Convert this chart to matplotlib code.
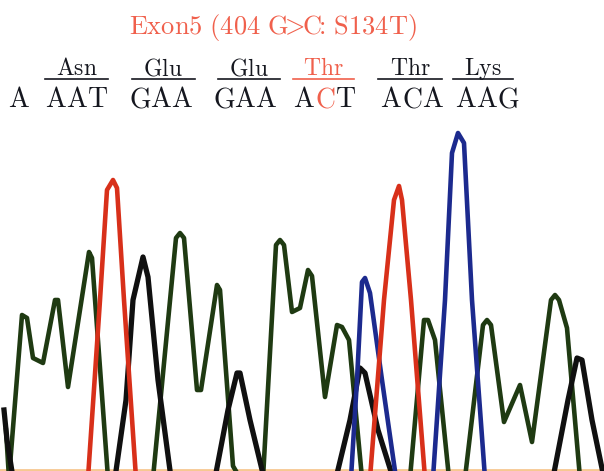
import matplotlib.pyplot as plt

# Sequencing trace, x in pixels along the read, y = screen row of the trace (469 = baseline)
base = 469
low = 478  # below the visible edge, flat parts are hidden

green_x = [6, 9, 22, 27, 33, 43, 55, 58, 68, 89, 92, 108, 153, 176, 180, 184, 197, 201, 217, 220, 233, 240,
           263, 276, 280, 284, 292, 300, 308, 312, 325, 337, 342, 349, 362, 410, 424, 428, 435, 449, 465,
           483, 487, 491, 504, 520, 532, 551, 555, 559, 567, 580]
green_y = [430, low, 315, 318, 358, 363, 300, 300, 387, 252, 258, low, low, 238, 233, 238, 390, 390, 285, 290,
           466, low, low, 245, 240, 245, 312, 308, 270, 276, 397, 325, 327, 340, low, low, 320, 320, 340, low, low,
           325, 320, 325, 422, 385, 442, 300, 295, 300, 328, low]

red_x = [88, 100, 107, 113, 117, 124, 136, 370, 384, 394, 399, 402, 411, 425]
red_y = [low, 300, 190, 180, 188, 300, low, low, 300, 200, 186, 200, 300, low]

blue_x = [351, 357, 362, 365, 370, 382, 396, 433, 445, 452, 458, 464, 472, 485]
blue_y = [low, 380, 282, 278, 293, 380, low, low, 300, 153, 133, 143, 300, low]

black_x = [4, 7, 13, 115, 126, 133, 143, 148, 158, 171, 215, 228, 237, 240, 250, 264, 336, 350, 360, 365,
           378, 393, 553, 568, 577, 582, 592, 604]
black_y = [410, 440, low, low, 400, 300, 257, 277, 380, low, low, 410, 373, 373, 420, low, low, 420, 368, 373,
           430, low, low, 400, 358, 360, 420, low]

amino = ['Asn', 'Glu', 'Glu', 'Thr', 'Thr', 'Lys']
amino_x = [77, 163, 249, 323, 410, 483]
amino_line = [(45, 108), (132, 195), (218, 280), (293, 354), (378, 442), (453, 513)]
codons = ['AAT', 'GAA', 'GAA', 'ACT', 'ACA', 'AAG']
codon_x = [77, 161, 245, 325, 412, 487]
mut_index = 3

red_txt = '#f0604c'
dark_txt = '#15171f'

plt.rcParams['mathtext.fontset'] = 'cm'

fig = plt.figure(figsize=(6.04, 4.71), dpi=100)
ax = fig.add_axes([0, 0, 1, 1])
ax.set_xlim(0, 604)
ax.set_ylim(471, 0)
ax.axis('off')

ax.axhline(base + 1, color='#f7c890', lw=2, zorder=0)

lw = 3.3
ax.plot(green_x, green_y, color='#1f3a12', lw=lw, solid_joinstyle='round', zorder=2)
ax.plot(black_x, black_y, color='#101010', lw=lw + 0.5, solid_joinstyle='round', zorder=3)
ax.plot(blue_x, blue_y, color='#1c2a8e', lw=lw, solid_joinstyle='round', zorder=4)
ax.plot(red_x, red_y, color='#d8301a', lw=lw, solid_joinstyle='round', zorder=5)


def rm(s):
    return r'$\mathrm{' + s.replace(' ', r'\ ') + '}$'


title = r'$\mathrm{Exon5\ (404\ G}\!\!>\!\!\mathrm{C}\!\!:\,\mathrm{S134T)}$'
ax.text(273, 34, title, color=red_txt, fontsize=19, ha='center', va='baseline')

for i, (name, x, (x0, x1)) in enumerate(zip(amino, amino_x, amino_line)):
    c = red_txt if i == mut_index else dark_txt
    ax.text(x, 75, rm(name), color=c, fontsize=17, ha='center', va='baseline')
    ax.plot([x0, x1], [79, 79], color=c, lw=1.2)

ax.text(19, 107, rm('A'), color=dark_txt, fontsize=20, ha='center', va='baseline')
for i, (cod, x) in enumerate(zip(codons, codon_x)):
    for j, ch in enumerate(cod):
        c = red_txt if (i == mut_index and j == 1) else dark_txt
        ax.text(x + (j - 1) * 21, 107, rm(ch), color=c, fontsize=20, ha='center', va='baseline')

fig.savefig('out.png', dpi=100)
